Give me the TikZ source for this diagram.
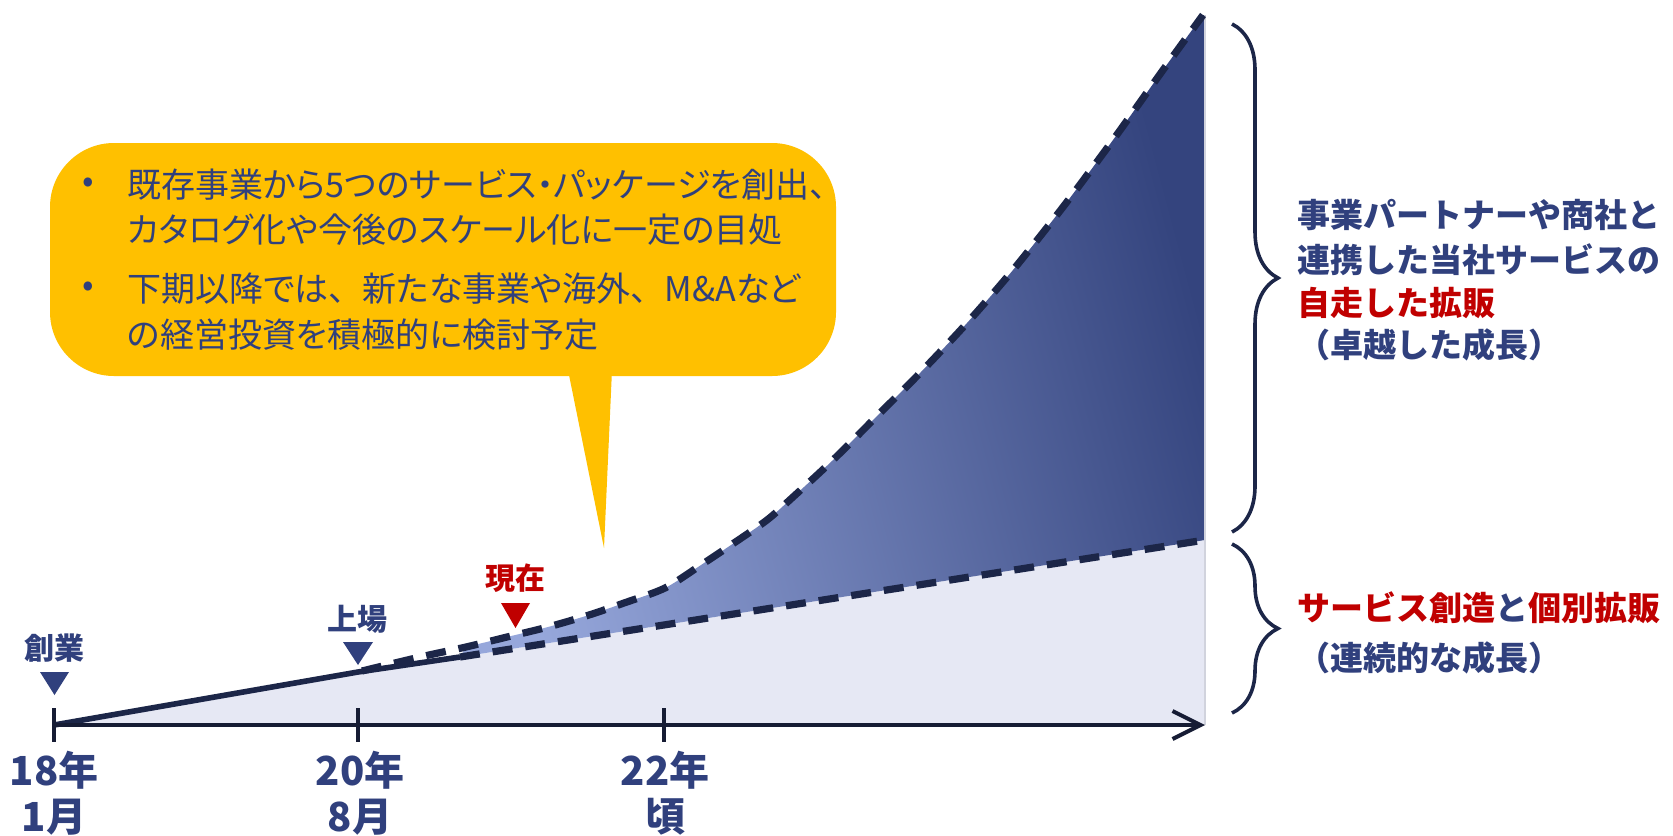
\documentclass[tikz,border=0pt]{standalone}
\usepackage{fontspec}
\newfontfamily\jp{Noto Sans CJK JP}
\newfontfamily\jpp{Noto Sans CJK JP}[RawFeature=+palt]
\usetikzlibrary{arrows.meta,decorations.pathreplacing}
\definecolor{navy}{RGB}{48,64,125}
\definecolor{dark}{RGB}{28,38,72}
\definecolor{axisc}{RGB}{22,28,52}
\definecolor{redc}{RGB}{192,0,0}
\definecolor{callc}{RGB}{255,192,0}
\definecolor{lav}{RGB}{230,232,244}
\definecolor{gl}{RGB}{150,167,219}
\definecolor{gm}{RGB}{126,142,196}
\definecolor{gd}{RGB}{52,68,126}
\begin{document}
\begin{tikzpicture}[x=0.5pt,y=-0.5pt,
  lbl/.style={font=\jp\bfseries\fontsize{20}{24}\selectfont, text=navy, inner sep=0pt},
  mk/.style={font=\jp\bfseries\fontsize{15}{18}\selectfont, text=navy, inner sep=0pt},
  bul/.style={font=\jpp\fontsize{17}{20}\selectfont, text=navy, anchor=west, inner sep=0pt},
  rt/.style={font=\jp\bfseries\fontsize{16.5}{20}\selectfont, text=navy, anchor=west, inner sep=0pt},
  dashline/.style={line width=3.6pt, draw=dark, dash pattern=on 10pt off 6.5pt},
  solidline/.style={line width=2.8pt, draw=dark},
  axisline/.style={line width=2pt, draw=axisc},
  brc/.style={decorate, decoration={brace, amplitude=23pt}, line width=1.8pt, draw=dark},
  tri/.style={fill=navy}
]
\useasboundingbox (0,0) rectangle (1673,835);

% coordinates
\coordinate (o) at (54,725);
\coordinate (xend) at (1205,725);
\coordinate (ipo) at (358,672);
\coordinate (l0) at (460,657);
\coordinate (l1) at (1205,540);
\coordinate (top) at (1205,15);
\coordinate (rb) at (1205,725);

% light fill
\fill[lav] (o) -- (ipo) -- (l0) -- (l1) -- (rb) -- cycle;

% gradient area
\shade[left color=gl, middle color=gm, right color=gd, shading angle=105]
  (l0) -- (l1) -- (top) -- plot[smooth] coordinates {(1203,15) (1163,70) (1113,140) (1063,207) (1013,270) (967,323) (920,373) (880,413) (833,460) (793,497) (767,520) (731,545) (701,565) (665,588) (624,603) (589,615) (548,627) (507,637) (466,647)} -- cycle;

\draw[line width=0.6pt, draw=lav!80!gray] (top) -- (rb);

% solid line
\draw[solidline, line join=round] (o) -- (ipo) -- (l0);
% lower dashed
\draw[dashline] (l0) -- (l1);
% upper dashed curve
\draw[dashline] plot[smooth] coordinates {(362,671) (420,657) (466,647) (507,637) (548,627) (589,615) (624,603) (665,588) (701,565) (731,545) (767,520) (793,497) (833,460) (880,413) (920,373) (967,323) (1013,270) (1063,207) (1113,140) (1163,70) (1203,15)};

% axis
\draw[axisline, -{Straight Barb[length=14pt,width=14pt]}] (o) -- (xend);
\draw[axisline] (54,708) -- (54,742);
\draw[axisline] (358,708) -- (358,742);
\draw[axisline] (664,708) -- (664,742);

% axis labels
\node[lbl] (a18) at (54,770) {18年};
\node[lbl] (a18b) at (54,817) {1月};
\node[lbl] (a20) at (360,770) {20年};
\node[lbl] (a20b) at (360,817) {8月};
\node[lbl] (a22) at (665,770) {22年};
\node[lbl] (a22b) at (665,817) {頃};

% markers
\fill[tri] (40,672) -- (69,672) -- (54.5,695) -- cycle;
\node[mk] (m1) at (55,648) {創業};
\fill[tri] (343,642) -- (373,642) -- (358,665) -- cycle;
\node[mk] (m2) at (357,619) {上場};
\fill[redc] (501,603) -- (530,603) -- (515.5,628) -- cycle;
\node[mk, text=redc] (m3) at (515,578) {現在};

% callout
\fill[callc, rounded corners=32] (50,143) rectangle (836,376);
\fill[callc] (568,370) -- (612,370) -- (604,548) -- cycle;
\node[bul, anchor=center] (b1) at (88,185) {•};
\node[bul] (c1) at (127,185) {既存事業から5つのサービス・パッケージを創出、};
\node[bul] (c2) at (127,230) {カタログ化や今後のスケール化に一定の目処};
\node[bul, anchor=center] (b2) at (88,289) {•};
\node[bul] (c3) at (127,289) {下期以降では{\jp 、}新たな事業や海外{\jp 、}M\&Aなど};
\node[bul] (c4) at (127,335) {の経営投資を積極的に検討予定};

% braces
\coordinate (br1a) at (1232,24);
\coordinate (br1b) at (1232,532);
\coordinate (br2a) at (1232,544);
\coordinate (br2b) at (1232,713);
\draw[brc] (br1a) -- (br1b);
\draw[brc] (br2a) -- (br2b);

% right texts
\node[rt] (r1) at (1297,215) {事業パートナーや商社と};
\node[rt] (r2) at (1297,260) {連携した当社サービスの};
\node[rt, text=redc] (r3) at (1297,303) {自走した拡販};
\node[rt] (r4) at (1297,345) {（卓越した成長）};
\node[rt] (s1) at (1297,608) {{\color{redc}サービス創造}と{\color{redc}個別拡販}};
\node[rt] (s2) at (1297,658) {（連続的な成長）};
\end{tikzpicture}
\end{document}
